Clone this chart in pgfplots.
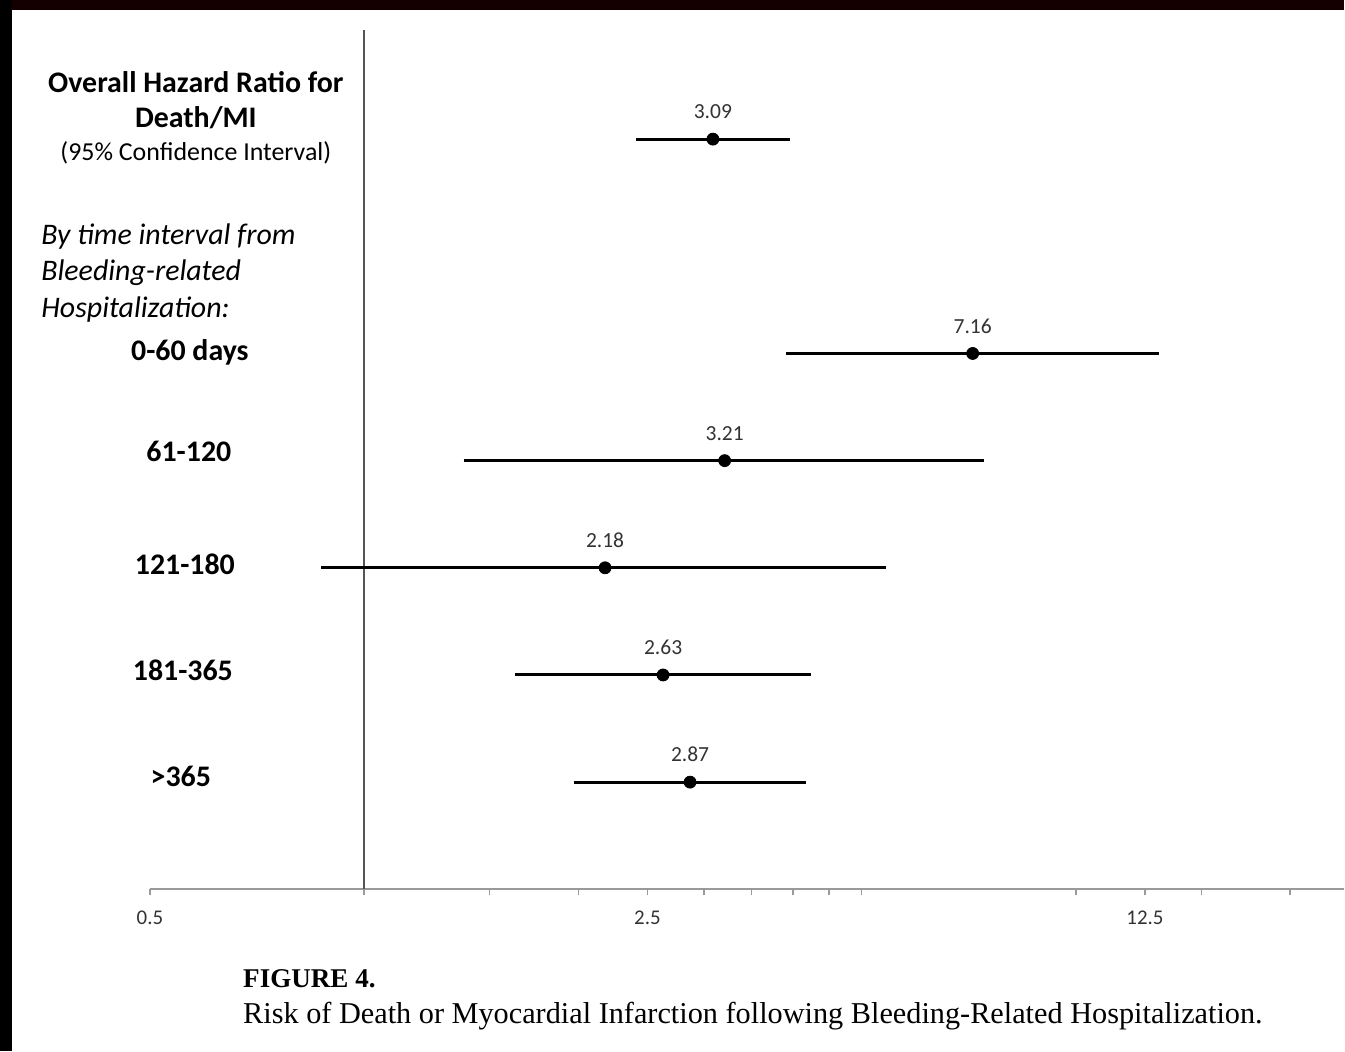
\documentclass[border=0pt]{standalone}
\usepackage{pgfplots}
\pgfplotsset{compat=1.18}
\usepackage{fontspec}
\setmainfont{Carlito}
\newfontfamily\capfont{Liberation Serif}
\definecolor{axgray}{HTML}{9A9A9A}
\definecolor{refgray}{HTML}{555555}
\definecolor{numgray}{HTML}{333333}
\begin{document}
\begin{tikzpicture}
\begin{scope}[x=0.5bp,y=0.5bp]
\fill[white] (0,0) rectangle (1345,1052);
\fill[black!92!red] (0,1042) rectangle (1345,1052);
\fill[black] (0,0) rectangle (12,1052);
\end{scope}
\begin{axis}[
  at={(75bp,81bp)}, anchor=south west,
  scale only axis, width=597.5bp, height=429bp,
  xmode=log, xmin=0.5, xmax=23.8, ymin=0, ymax=8,
  axis x line=bottom, axis y line=none,
  x axis line style={axgray, line width=1bp, -},
  xtick={0.5,2.5,12.5}, xticklabels={0.5,2.5,12.5},
  minor xtick={1,1.5,2,3,3.5,4,4.5,5,10,15,20},
  tick align=outside, tick style={axgray, line width=0.8bp},
  major tick length=3bp, minor tick length=3bp,
  xticklabel style={font=\fontsize{10.5}{12}\selectfont, text=numgray, yshift=-4.5bp},
  /pgf/number format/assume math mode=true,
  clip=false,
]
\addplot[refgray, line width=0.8bp] coordinates {(1,0) (1,8.02)};
\addplot[black, line width=1.5bp] coordinates {(2.41,7) (3.97,7)};
\addplot[black, line width=1.5bp] coordinates {(3.92,5) (13.08,5)};
\addplot[black, line width=1.5bp] coordinates {(1.38,4) (7.43,4)};
\addplot[black, line width=1.5bp] coordinates {(0.87,3) (5.41,3)};
\addplot[black, line width=1.5bp] coordinates {(1.63,2) (4.25,2)};
\addplot[black, line width=1.5bp] coordinates {(1.97,1) (4.17,1)};
\addplot[only marks, mark=*, mark size=3bp, black,
  nodes near coords, point meta=explicit symbolic,
  every node near coord/.style={font=\fontsize{10.8}{12}\selectfont, text=numgray, anchor=south, yshift=6.5bp}]
  coordinates {(3.09,7)[3.09] (7.16,5)[7.16] (3.21,4)[3.21] (2.18,3)[2.18] (2.63,2)[2.63] (2.87,1)[2.87]};
\end{axis}
\begin{scope}[x=0.5bp,y=0.5bp,every node/.style={inner sep=0pt, text=black}]
\node[font=\fontsize{15}{17}\selectfont\bfseries] at (196,1052-82) {Overall Hazard Ratio for};
\node[font=\fontsize{15}{17}\selectfont\bfseries] at (196,1052-118) {Death/MI};
\node[font=\fontsize{13}{15}\selectfont] at (196,1052-153) {(95\% Confidence Interval)};
\node[font=\fontsize{15}{17}\selectfont\itshape, anchor=west] at (41,1052-237) {By time interval from};
\node[font=\fontsize{15}{17}\selectfont\itshape, anchor=west] at (41,1052-273) {Bleeding-related};
\node[font=\fontsize{15}{17}\selectfont\itshape, anchor=west] at (41,1052-310) {Hospitalization:};
\node[font=\fontsize{15}{17}\selectfont\bfseries] at (190,1052-353) {0-60 days};
\node[font=\fontsize{15}{17}\selectfont\bfseries] at (189,1052-452) {61-120};
\node[font=\fontsize{15}{17}\selectfont\bfseries] at (185,1052-565) {121-180};
\node[font=\fontsize{15}{17}\selectfont\bfseries] at (183,1052-671) {181-365};
\node[font=\fontsize{15}{17}\selectfont\bfseries] at (181,1052-777) {>365};
\node[font=\fontsize{13.6}{15}\capfont\bfseries, anchor=west] at (243,1052-979) {FIGURE 4.};
\node[font=\fontsize{15.2}{17}\capfont, anchor=west] at (243,1052-1017) {Risk of Death or Myocardial Infarction following Bleeding-Related Hospitalization.};
\end{scope}
\end{tikzpicture}
\end{document}
